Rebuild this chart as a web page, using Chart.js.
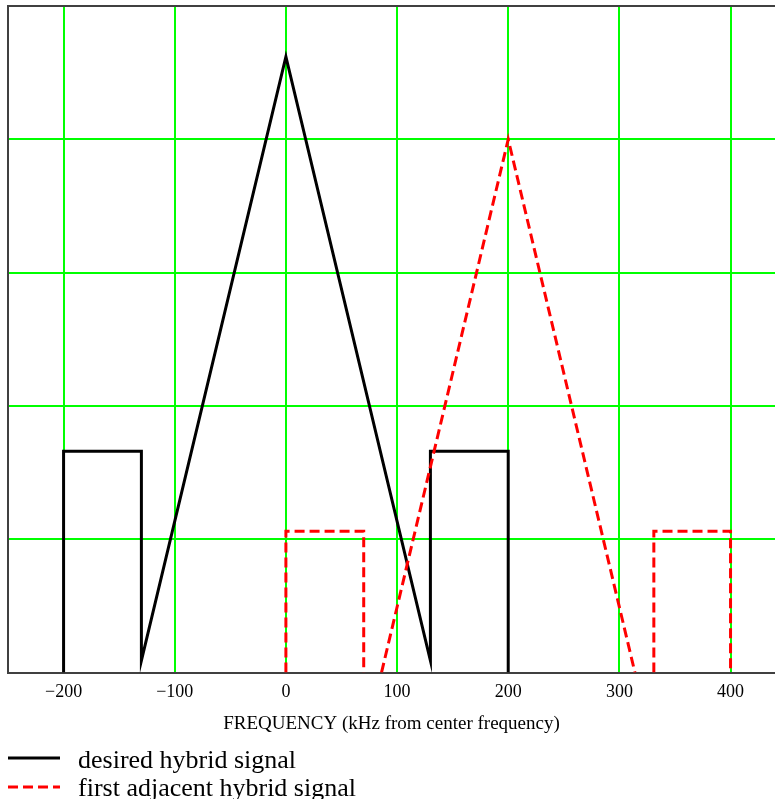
<!DOCTYPE html>
<html>
<head>
<meta charset="utf-8">
<script src="https://cdn.jsdelivr.net/npm/chart.js@4"></script>
<style>
  html, body { margin: 0; padding: 0; background: #fff; }
  #wrap { position: relative; width: 775px; height: 799px; overflow: hidden; }
  #legend { position: absolute; left: 0; top: 746px; font-family: "Liberation Serif", "Times New Roman", serif; font-size: 26px; color: #000; }
  .item { position: relative; height: 28px; line-height: 28px; }
  .item svg { position: absolute; left: 8px; top: 0; }
  .item span { position: absolute; left: 78px; top: 0; white-space: nowrap; }
</style>
</head>
<body>
<div id="wrap">
  <canvas id="c" width="775" height="799"></canvas>
  <div id="legend"></div>
</div>
<script>
// ---- data ----
const xTickValues = [-200, -100, 0, 100, 200, 300, 400];
const xTickLabels = ["\u2212200", "\u2212100", "0", "100", "200", "300", "400"];
const seriesNames = ["desired hybrid signal", "first adjacent hybrid signal"];
const desiredX = [-200, -200, -130, -130, 0, 130, 130, 200, 200];
const desiredY = [0, 1.66, 1.66, 0.09, 4.62, 0.09, 1.66, 1.66, 0];
const adjacentX = [0, 0, 70, 70, 78, 86, 200, 314, 322, 331, 331, 400, 400];
const adjacentY = [0, 1.06, 1.06, 0, null, 0, 4.0, 0, null, 0, 1.06, 1.06, 0];
const axisTitle = "FREQUENCY (kHz from center frequency)";

const toPts = (xs, ys) => xs.map((x, i) => ({ x: x, y: ys[i] }));
const GREEN = '#00ff00';
const FRAME = '#404040';

const chart = new Chart(document.getElementById('c'), {
  type: 'line',
  data: {
    datasets: [
      { label: seriesNames[0], data: toPts(desiredX, desiredY), borderColor: '#000000', borderWidth: 3, pointRadius: 0, tension: 0, spanGaps: false, order: 2 },
      { label: seriesNames[1], data: toPts(adjacentX, adjacentY), borderColor: '#ff0000', borderWidth: 3, borderDash: [10, 5], pointRadius: 0, tension: 0, spanGaps: false, order: 1 }
    ]
  },
  options: {
    responsive: false,
    animation: false,
    events: [],
    layout: { padding: { left: 8, right: 0, top: 6, bottom: 64 } },
    plugins: { legend: { display: false }, tooltip: { enabled: false } },
    scales: {
      x: {
        type: 'linear', min: -250, max: 440,
        afterBuildTicks: (s) => { s.ticks = xTickValues.map(v => ({ value: v })); },
        grid: { color: GREEN, lineWidth: 2, drawTicks: false },
        border: { color: FRAME, width: 2 },
        ticks: {
          padding: 9, color: '#000', maxRotation: 0, autoSkip: false,
          font: { family: '"Liberation Serif", serif', size: 18 },
          callback: (v) => { const i = xTickValues.indexOf(v); return i >= 0 ? xTickLabels[i] : ''; }
        },
        title: { display: true, text: axisTitle, color: '#000', padding: { top: 0, bottom: 0 }, font: { family: '"Liberation Serif", serif', size: 19 } }
      },
      y: {
        type: 'linear', min: 0, max: 5,
        ticks: { display: false, stepSize: 1 },
        grid: { lineWidth: 2, drawTicks: false, color: (ctx) => (ctx.tick && ctx.tick.value === 5) ? FRAME : GREEN },
        border: { color: FRAME, width: 2 }
      }
    }
  }
});

// HTML legend
const legend = document.getElementById('legend');
const samples = [
  '<svg width="60" height="28"><line x1="0" y1="12" x2="52" y2="12" stroke="#000" stroke-width="3"/></svg>',
  '<svg width="60" height="28"><line x1="0" y1="13" x2="52" y2="13" stroke="#ff0000" stroke-width="3" stroke-dasharray="10 5"/></svg>'
];
seriesNames.forEach((n, i) => {
  const d = document.createElement('div');
  d.className = 'item';
  d.innerHTML = samples[i] + '<span>' + n + '</span>';
  legend.appendChild(d);
});
</script>
</body>
</html>
